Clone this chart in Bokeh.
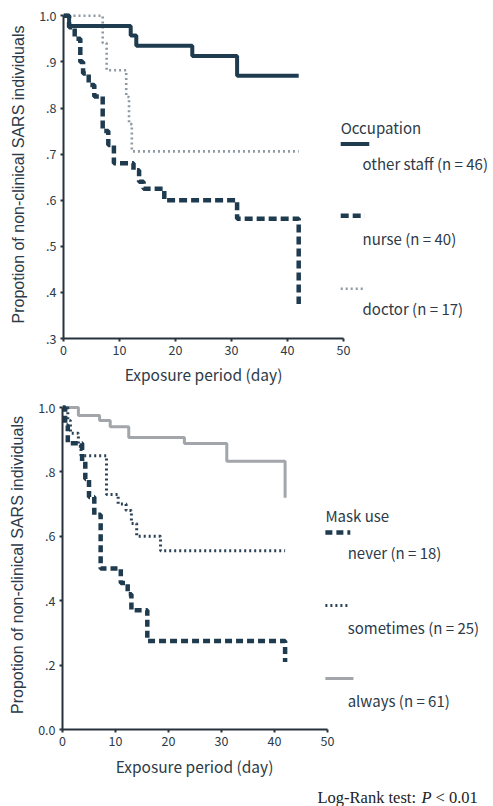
from bokeh.plotting import figure
from bokeh.layouts import column
from bokeh.models import Range1d, FixedTicker
from bokeh.core.properties import value
from bokeh.embed import file_html
from bokeh.resources import INLINE

# ---------------- data ----------------
# Top panel: Occupation
staff_days = [0, 1, 12, 13, 23, 31, 42]
staff_surv = [1.0, 0.978, 0.957, 0.935, 0.913, 0.870, 0.870]

nurse_days = [0, 1, 2, 3, 3.5, 4.5, 5.5, 7, 8, 9, 12.5, 13.5, 14.3, 18, 31, 42]
nurse_surv = [1.0, 0.975, 0.95, 0.9, 0.875, 0.85, 0.825, 0.75, 0.72, 0.68, 0.665, 0.64, 0.625, 0.60, 0.56, 0.375]

doctor_days = [0, 7, 7.7, 11.2, 11.7, 12.2, 42]
doctor_surv = [1.0, 0.941, 0.882, 0.824, 0.765, 0.706, 0.706]

top_yticks = [0.3, 0.4, 0.5, 0.6, 0.7, 0.8, 0.9, 1.0]
top_ylabels = [".3", ".4", ".5", ".6", ".7", ".8", ".9", "1.0"]

# Bottom panel: Mask use
never_days = [0, 0.5, 1, 3.7, 4.3, 5, 6, 7.2, 11, 12.3, 13, 16, 42]
never_surv = [1.0, 0.944, 0.889, 0.833, 0.778, 0.722, 0.667, 0.5, 0.455, 0.42, 0.37, 0.275, 0.21]

some_days = [0, 1, 1.5, 3, 3.5, 8.3, 10.5, 12, 13, 14, 18.5, 42]
some_surv = [1.0, 0.96, 0.92, 0.88, 0.85, 0.73, 0.70, 0.68, 0.64, 0.60, 0.555, 0.555]

always_days = [0, 3, 7, 9, 12.5, 23, 31, 42]
always_surv = [1.0, 0.975, 0.96, 0.94, 0.907, 0.888, 0.833, 0.72]

bot_yticks = [0.0, 0.2, 0.4, 0.6, 0.8, 1.0]
bot_ylabels = ["0.0", ".2", ".4", ".6", ".8", "1.0"]

xticks = [0, 10, 20, 30, 40, 50]

top_legend_title = "Occupation"
top_legend = ["other staff (n = 46)", "nurse (n = 40)", "doctor (n = 17)"]
bot_legend_title = "Mask use"
bot_legend = ["never (n = 18)", "sometimes (n = 25)", "always (n = 61)"]

ytitle = "Propotion of non-clinical SARS individuals"
xtitle = "Exposure period (day)"
test_parts = ["Log-Rank test:", "P", "< 0.01"]

# ---------------- styles ----------------
NAVY = "#1f3b4f"
DOC = "#8d99a3"
ALW = "#a2a6aa"
SOME = "#2a4156"
TXT = "#2d3a48"
SANS = "Noto Sans CJK JP"
W = 493
LEG_FS = "15px"


def style(p, ylabels_map):
    p.xgrid.visible = False
    p.ygrid.visible = False
    p.outline_line_color = None
    p.background_fill_color = "white"
    p.border_fill_color = "white"
    for ax in (p.xaxis[0], p.yaxis[0]):
        ax.axis_line_color = "#27323d"
        ax.axis_line_width = 2
        ax.major_tick_line_color = "#27323d"
        ax.major_tick_line_width = 2
        ax.major_tick_in = 0
        ax.major_tick_out = 3
        ax.minor_tick_line_color = None
        ax.major_label_text_color = TXT
        ax.major_label_text_font = SANS
        ax.major_label_text_font_size = "12.5px"
    p.xaxis[0].ticker = FixedTicker(ticks=xticks)
    p.xaxis[0].bounds = (0, 50)
    p.xaxis[0].major_label_standoff = 3
    p.yaxis[0].major_label_overrides = ylabels_map
    p.yaxis[0].axis_label = ytitle
    p.yaxis[0].axis_label_text_color = TXT
    p.yaxis[0].axis_label_text_font_style = "normal"
    p.yaxis[0].axis_label_text_font = "Liberation Sans"
    p.yaxis[0].axis_label_text_font_size = "16px"
    p.yaxis[0].major_label_standoff = 4
    p.yaxis[0].axis_label_standoff = 9


def strip(height, top):
    s = figure(width=W, height=height, output_backend="svg", toolbar_location=None,
               x_range=Range1d(0, W), y_range=Range1d(top + height, top),
               x_axis_location=None, y_axis_location=None,
               min_border=0, min_border_left=0, min_border_right=0,
               min_border_top=0, min_border_bottom=0, frame_align=False)
    s.xgrid.visible = False
    s.ygrid.visible = False
    s.outline_line_color = None
    return s


# ---------------- top figure (page y 0..362) ----------------
px_day1 = 5.6
px_unit1 = 461.0
left1 = 63
fh1 = 328
H1 = 362
p1 = figure(width=W, height=H1, output_backend="svg", toolbar_location=None,
            x_range=Range1d(0, (W - left1) / px_day1), y_range=Range1d(0.3, 0.3 + fh1 / px_unit1),
            min_border_left=left1, min_border_right=0, min_border_top=10,
            min_border_bottom=H1 - 10 - fh1, frame_align=False)
p1.yaxis[0].ticker = FixedTicker(ticks=top_yticks)
p1.yaxis[0].bounds = (0.3, 1.0)
style(p1, {t: l for t, l in zip(top_yticks, top_ylabels)})

p1.step(doctor_days, doctor_surv, mode="after", line_color=DOC, line_width=2.6, line_dash="2 3")
p1.step(nurse_days, nurse_surv, mode="after", line_color=NAVY, line_width=4.5, line_dash="8 4")
p1.step(staff_days, staff_surv, mode="after", line_color=NAVY, line_width=4)

lx0, lx1, tx = 49.5, 54.6, 53.4
p1.text([lx0], [0.757], text=[top_legend_title], text_font=value(SANS), text_font_size=LEG_FS,
        text_color=TXT, text_baseline="middle", text_align="left")
p1.line([lx0, lx1], [0.722, 0.722], line_color=NAVY, line_width=4)
p1.line([lx0, lx1 - 0.8], [0.566, 0.566], line_color=NAVY, line_width=4.5, line_dash="8 4")
p1.line([lx0, lx1 - 0.8], [0.408, 0.408], line_color=DOC, line_width=2.6, line_dash="2 3")
p1.text([tx, tx, tx], [0.679, 0.518, 0.364], text=top_legend, text_font=value(SANS),
        text_font_size=LEG_FS, text_color=TXT, text_baseline="middle", text_align="left")

# strip with top x-axis title (page y 362..396)
s1 = strip(34, 362)
s1.text([203], [373], text=[xtitle], text_font=value(SANS), text_font_size="15.5px",
        text_color=TXT, text_baseline="middle", text_align="center")

# ---------------- bottom figure (page y 396..752) ----------------
px_day2 = 5.3
px_unit2 = 322.0
left2 = 62
fh2 = 329
H2 = 356
p2 = figure(width=W, height=H2, output_backend="svg", toolbar_location=None,
            x_range=Range1d(0, (W - left2) / px_day2), y_range=Range1d(0.0, fh2 / px_unit2),
            min_border_left=left2, min_border_right=0, min_border_top=4,
            min_border_bottom=H2 - 4 - fh2, frame_align=False)
p2.yaxis[0].ticker = FixedTicker(ticks=bot_yticks)
p2.yaxis[0].bounds = (0.0, 1.0)
style(p2, {t: l for t, l in zip(bot_yticks, bot_ylabels)})

p2.step(always_days, always_surv, mode="after", line_color=ALW, line_width=3)
p2.step(some_days, some_surv, mode="after", line_color=SOME, line_width=3, line_dash="2 3")
p2.step(never_days, never_surv, mode="after", line_color=NAVY, line_width=4.5, line_dash="7 4")

bx0, bx1, btx = 49.6, 54.3, 53.8
p2.text([bx0], [0.665], text=[bot_legend_title], text_font=value(SANS), text_font_size=LEG_FS,
        text_color=TXT, text_baseline="middle", text_align="left")
p2.line([bx0, bx1], [0.612, 0.612], line_color=NAVY, line_width=4.5, line_dash="7 4")
p2.line([bx0, bx1], [0.385, 0.385], line_color=SOME, line_width=3, line_dash="2 3")
p2.line([bx0, bx1 + 0.6], [0.158, 0.158], line_color=ALW, line_width=3)
p2.text([btx, btx, btx], [0.550, 0.317, 0.090], text=bot_legend, text_font=value(SANS),
        text_font_size=LEG_FS, text_color=TXT, text_baseline="middle", text_align="left")

# strip with bottom x-axis title and test note (page y 752..806)
s2 = strip(54, 752)
s2.text([194], [765], text=[xtitle], text_font=value(SANS), text_font_size="15.5px",
        text_color=TXT, text_baseline="middle", text_align="center")
s2.text([317], [797], text=[test_parts[0]], text_font=value("Liberation Serif"), text_font_size="16.5px",
        text_color="#222222", text_baseline="middle", text_align="left")
s2.text([421], [797], text=[test_parts[1]], text_font=value("Liberation Serif"), text_font_size="16.5px",
        text_font_style="italic", text_color="#222222", text_baseline="middle", text_align="left")
s2.text([435], [797], text=[test_parts[2]], text_font=value("Liberation Serif"), text_font_size="16.5px",
        text_color="#222222", text_baseline="middle", text_align="left")

layout = column(p1, s1, p2, s2, spacing=0)
open("out.html", "w").write(file_html(layout, INLINE))
